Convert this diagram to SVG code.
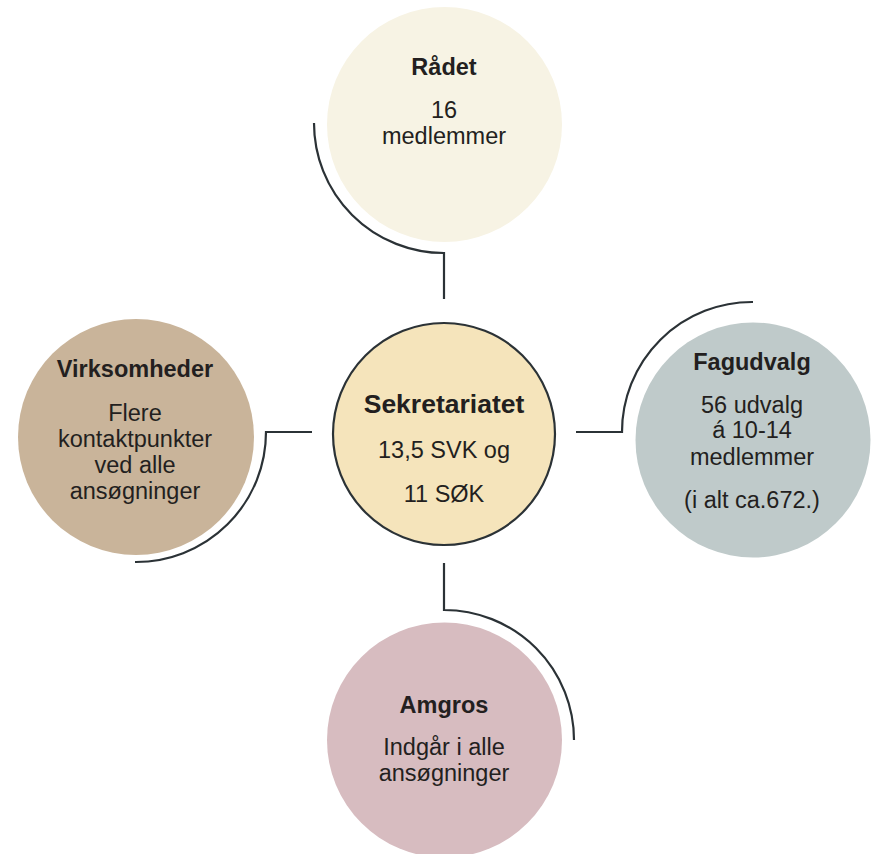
<svg xmlns="http://www.w3.org/2000/svg" width="873" height="854" viewBox="0 0 873 854">
<style>
.t{font-family:"Liberation Sans",Arial,sans-serif;fill:#231f20;text-anchor:middle}
.b{font-weight:bold;font-size:23.5px}
.r{font-size:23.5px}
.c{fill:none;stroke:#2b3236;stroke-width:2.2}
</style>
<rect width="873" height="854" fill="#ffffff"/>
<g id="connectors">
<path class="c" d="M314,123 A130,130 0 0 0 444,253 L444,299"/>
<path class="c" d="M753,302 A130,130 0 0 0 622,432 L576,432"/>
<path class="c" d="M135,562 A130,130 0 0 0 266,432 L312,432"/>
<path class="c" d="M444,563 L444,610 A130,130 0 0 1 574,740"/>
</g>
<g id="raadet">
<circle cx="444.5" cy="124.5" r="117.5" fill="#f7f3e4"/>
<text class="t b" x="444" y="75">Rådet</text>
<text class="t r" x="444" y="118">16</text>
<text class="t r" x="444" y="144">medlemmer</text>
</g>
<g id="sekretariatet">
<circle cx="444" cy="434" r="111" fill="#f5e4bb" stroke="#2b3236" stroke-width="2.2"/>
<text class="t" x="444" y="413" font-weight="bold" font-size="26.5px">Sekretariatet</text>
<text class="t r" x="444" y="458">13,5 SVK og</text>
<text class="t r" x="444" y="502">11 SØK</text>
</g>
<g id="virksomheder">
<circle cx="136" cy="437" r="118" fill="#c9b49a"/>
<text class="t b" x="135" y="377">Virksomheder</text>
<text class="t r" x="135" y="421">Flere</text>
<text class="t r" x="135" y="447">kontaktpunkter</text>
<text class="t r" x="135" y="473">ved alle</text>
<text class="t r" x="135" y="499">ansøgninger</text>
</g>
<g id="fagudvalg">
<circle cx="753" cy="440" r="117.5" fill="#bfcaca"/>
<text class="t b" x="752" y="370">Fagudvalg</text>
<text class="t r" x="752" y="413">56 udvalg</text>
<text class="t r" x="752" y="438">á 10-14</text>
<text class="t r" x="752" y="465">medlemmer</text>
<text class="t r" x="752" y="508">(i alt ca.672.)</text>
</g>
<g id="amgros">
<circle cx="444.5" cy="740" r="117.5" fill="#d7bcc0"/>
<text class="t b" x="444" y="713">Amgros</text>
<text class="t r" x="444" y="755">Indgår i alle</text>
<text class="t r" x="444" y="781">ansøgninger</text>
</g>
</svg>
